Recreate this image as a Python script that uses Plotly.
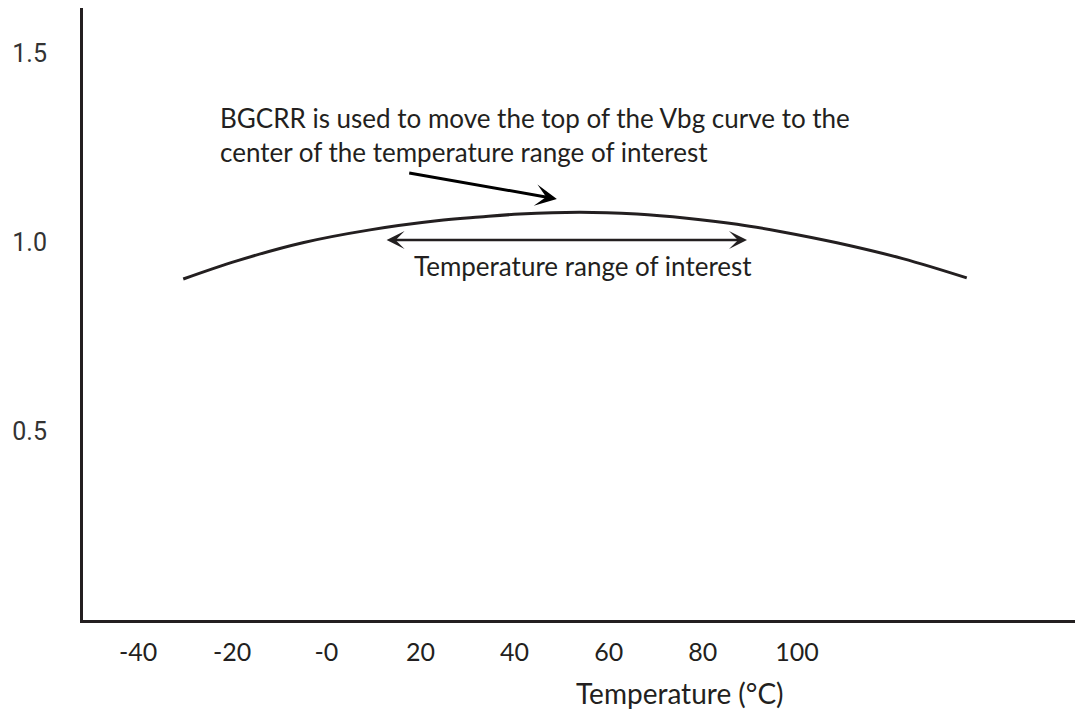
import plotly.graph_objects as go

# Data
temps = [-30.4, -19.0, -5.0, 9.3, 23.5, 32.6, 41.1, 53.9, 66.0, 76.6, 87.3, 96.4, 108.5, 122.5, 136.1]
vbg = [0.902, 0.950, 0.998, 1.032, 1.056, 1.066, 1.074, 1.079, 1.074, 1.063, 1.047, 1.028, 0.998, 0.956, 0.905]

x_tickvals = [-40, -20, 0, 20, 40, 60, 80, 100]
x_ticktext = ["-40", "-20", "-0", "20", "40", "60", "80", "100"]
y_tickvals = [0.5, 1.0, 1.5]
y_ticktext = ["0.5", "1.0", "1.5"]

range_of_interest = [12.5, 89.4]
range_level = 1.005
range_label_pos = [54.5, 0.937]
pointer_tail = [17.3, 1.183]
pointer_head = [49.0, 1.114]

INK = "#231f20"
TXT_FONT = "Lato"

fig = go.Figure()
fig.add_trace(go.Scatter(
    x=temps, y=vbg, mode="lines",
    line=dict(color=INK, width=3, shape="spline", smoothing=1.0),
    hoverinfo="skip", showlegend=False,
))

fig.update_layout(
    width=1075, height=710,
    margin=dict(l=83, r=0, t=8, b=90),
    paper_bgcolor="white", plot_bgcolor="white",
    showlegend=False,
    xaxis=dict(
        range=[-51.7, 159.1], showgrid=False, zeroline=False,
        showline=True, linecolor=INK, linewidth=3,
        tickmode="array", tickvals=x_tickvals, ticktext=x_ticktext,
        ticks="", ticklabelstandoff=8,
        tickfont=dict(family=TXT_FONT, size=25, color=INK),
    ),
    yaxis=dict(
        range=[0, 1.619], showgrid=False, zeroline=False,
        showline=True, linecolor=INK, linewidth=3,
        tickmode="array", tickvals=y_tickvals, ticktext=y_ticktext,
        ticks="", ticklabelstandoff=28,
        tickfont=dict(family="Roboto", size=25, color="#333333"),
    ),
)

annotations = [
    dict(text="BGCRR is used to move the top of the Vbg curve to the<br>center of the temperature range of interest",
         xref="paper", yref="paper", x=(218 - 83) / 992, y=(620 - 135) / 612,
         xanchor="left", yanchor="middle", align="left", showarrow=False,
         font=dict(family=TXT_FONT, size=26, color=INK)),
    dict(text="Temperature range of interest",
         x=range_label_pos[0], y=range_label_pos[1], xref="x", yref="y",
         xanchor="center", yanchor="middle", showarrow=False,
         font=dict(family=TXT_FONT, size=26, color=INK)),
    dict(text="Temperature (°C)",
         xref="paper", yref="paper", x=(680 - 83) / 992, y=(620 - 693) / 612,
         xanchor="center", yanchor="middle", showarrow=False,
         font=dict(family=TXT_FONT, size=28, color=INK)),
    dict(text="", x=pointer_head[0], y=pointer_head[1], xref="x", yref="y",
         ax=pointer_tail[0], ay=pointer_tail[1], axref="x", ayref="y",
         showarrow=True, arrowhead=3, arrowsize=1.2, arrowwidth=3, arrowcolor="black"),
    dict(text="", x=range_of_interest[1], y=range_level, xref="x", yref="y",
         ax=range_of_interest[0], ay=range_level, axref="x", ayref="y",
         showarrow=True, arrowhead=3, startarrowhead=3, arrowside="end+start",
         arrowsize=1.2, startarrowsize=1.2, arrowwidth=2.5, arrowcolor=INK),
]
fig.update_layout(annotations=annotations)

fig.write_html("out.html", config={"displayModeBar": False},
               post_script="document.body.style.margin='0';")
